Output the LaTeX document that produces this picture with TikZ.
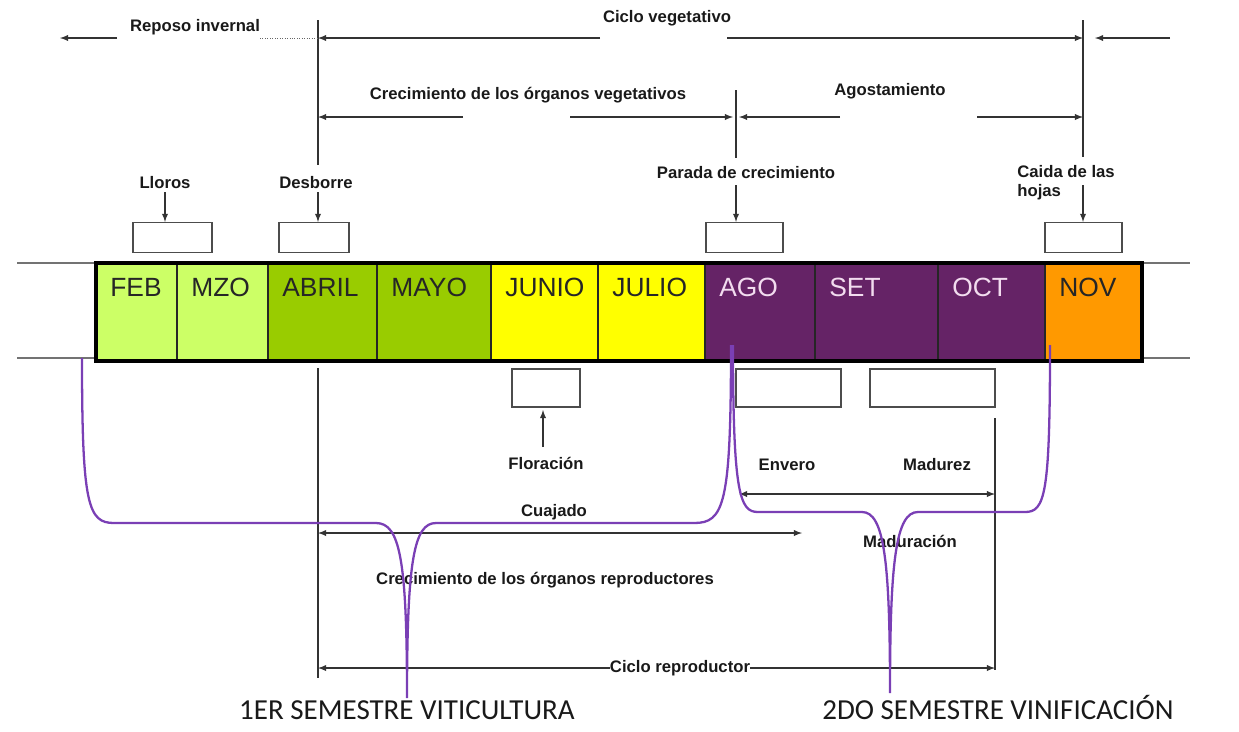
\documentclass[tikz,border=0pt]{standalone}
\usepackage{fontspec}
\setmainfont{Liberation Sans}
\newfontfamily\semfont{Carlito}
\usetikzlibrary{arrows,calc,positioning}
\definecolor{febgreen}{HTML}{CCFF66}
\definecolor{abrgreen}{HTML}{99CC00}
\definecolor{junyellow}{HTML}{FFFF00}
\definecolor{agopurple}{HTML}{652366}
\definecolor{novorange}{HTML}{FF9900}
\definecolor{bracecol}{HTML}{7A3FB5}
\definecolor{lightmonth}{HTML}{F2DCEF}

\tikzset{
  lbl/.style={font=\bfseries\fontsize{9.5}{11}\selectfont, inner sep=0pt, text=black!90},
  mes/.style={font=\fontsize{15}{16}\selectfont, anchor=base west, inner sep=0pt},
  evbox/.style={draw=black!70, line width=0.7pt, inner sep=0pt, minimum height=0.6cm},
  sem/.style={font=\semfont\fontsize{16.5}{18}\selectfont, text=black!90, anchor=base},
  fase/.style={black!80, line width=0.6pt},
  brace/.style={bracecol, line width=1.3pt}
}

\begin{document}
\begin{tikzpicture}[x=0.02cm,y=-0.02cm,>=latex]
    \useasboundingbox (0,0) rectangle (1239,731);

    % lineas guia
    \draw[black!55, line width=0.6pt] (17,263) -- (1190,263);
    \draw[black!55, line width=0.6pt] (17,358) -- (1190,358);

    % meses
    \foreach \a/\b/\c/\t/\tc in {96/177/febgreen/FEB/black!85, 177/268/febgreen/MZO/black!85,
        268/377/abrgreen/ABRIL/black!85, 377/491/abrgreen/MAYO/black!85,
        491/598/junyellow/JUNIO/black!85, 598/705/junyellow/JULIO/black!85,
        705/815/agopurple/AGO/lightmonth, 815/938/agopurple/SET/lightmonth,
        938/1045/agopurple/OCT/lightmonth, 1045/1142/novorange/NOV/black!85}{
      \fill[\c] (\a,263) rectangle (\b,361);
      \draw[black!85, line width=0.6pt] (\a,263) -- (\a,361);
      \node[mes, text=\tc] (m\t) at (\a+14,296) {\t};
    }
    \draw[black, line width=1.8pt] (96,263) rectangle (1142,361);

    % fases arriba
    \node[lbl] (reposo) at (195,27) {Reposo invernal};
    \node[lbl] (cveg) at (667,18) {Ciclo vegetativo};
    \node[lbl] (creveg) at (528,95) {Crecimiento de los órganos vegetativos};
    \node[lbl] (agost) at (890,91) {Agostamiento};

    \coordinate (desbtop) at (318,20);
    \coordinate (paradatop) at (736,90);
    \coordinate (caidatop) at (1083,20);

    \draw[fase] (desbtop) -- (318,165);
    \draw[fase] (paradatop) -- (736,158);
    \draw[fase] (caidatop) -- (1083,157);

    \draw[fase,->] (117,38) -- (60,38);
    \draw[black!60, densely dotted] (260,38) -- (desbtop |- 0,38);
    \draw[fase,->] (600,38) -- (desbtop |- 0,38);
    \draw[fase,->] (727,38) -- (caidatop |- 0,38);
    \draw[fase,->] (1170,38) -- (1095,38);

    \draw[fase,->] (463,117) -- (desbtop |- 0,117);
    \draw[fase,->] (570,117) -- (733,117);
    \draw[fase,->] (840,117) -- (739,117);
    \draw[fase,->] (977,117) -- (caidatop |- 0,117);

    % eventos
    \node[lbl] (lloros) at (165,183) {Lloros};
    \node[lbl] (desb) at (316,183) {Desborre};
    \node[lbl] (parada) at (746,173) {Parada de crecimiento};
    \node[lbl, align=left, anchor=west] (caida) at (1017,183) {Caida de las\\hojas};

    \node[evbox, minimum width=1.58cm] (blloros) at (172.5,237.5) {};
    \node[evbox, minimum width=1.4cm] (bdesb) at (314,237.5) {};
    \node[evbox, minimum width=1.54cm] (bparada) at (744.5,237.5) {};
    \node[evbox, minimum width=1.54cm] (bcaida) at (1083.5,237.5) {};

    \draw[fase,->] (lloros.south) ++(0,3) -- (lloros.south |- blloros.north);
    \draw[fase,->] (318,192) -- (desbtop |- bdesb.north);
    \draw[fase,->] (736,185) -- (paradatop |- bparada.north);
    \draw[fase,->] (1083,185) -- (caidatop |- bcaida.north);

    % fases abajo
    \node[evbox, minimum width=1.36cm, minimum height=0.76cm] (bflor) at (546,388) {};
    \node[evbox, minimum width=2.1cm, minimum height=0.76cm] (benv) at (788.5,388) {};
    \node[evbox, minimum width=2.5cm, minimum height=0.76cm] (bmad) at (932.5,388) {};

    \node[lbl] (flor) at (546,463) {Floración};
    \node[lbl] (envero) at (787,465) {Envero};
    \node[lbl] (madurez) at (937,465) {Madurez};
    \node[lbl] (cuaj) at (554,512) {Cuajado};
    \node[lbl] (madura) at (910,541) {Maduración};
    \node[lbl] (crerep) at (545,580) {Crecimiento de los órganos reproductores};
    \node[lbl] (crep) at (680,668) {Ciclo reproductor};

    \draw[fase,->] (543,447) -- (543,410);

    \coordinate (reprotop) at (318,368);
    \coordinate (madtop) at (995,418);
    \draw[fase] (reprotop) -- (318,678);
    \draw[fase] (madtop) -- (995,670);

    \draw[fase,<->] (739,494) -- (madtop |- 0,494);
    \draw[fase,<->] (reprotop |- 0,533) -- (802,533);
    \draw[fase,->] (crep.west) -- (reprotop |- crep.west);
    \draw[fase,->] (crep.east) -- (madtop |- crep.east);

    % semestres
    \node[sem] (sem1) at (407,719) {1ER SEMESTRE VITICULTURA};
    \node[sem] (sem2) at (998,719) {2DO SEMESTRE VINIFICACIÓN};

    % llaves
    \draw[brace] (82,358) .. controls (82,505) and (88,523) .. (114,523) -- (376,523)
      .. controls (400,523) and (407,560) .. (407,698)
      .. controls (407,560) and (414,523) .. (436,523) -- (694,523)
      .. controls (724,523) and (731,505) .. (731,345);
    \draw[brace] (733,345) .. controls (733,495) and (740,512) .. (758,512) -- (862,512)
      .. controls (884,512) and (890,560) .. (890,693)
      .. controls (890,560) and (896,512) .. (918,512) -- (1025,512)
      .. controls (1045,512) and (1050,495) .. (1050,345);
\end{tikzpicture}
\end{document}
